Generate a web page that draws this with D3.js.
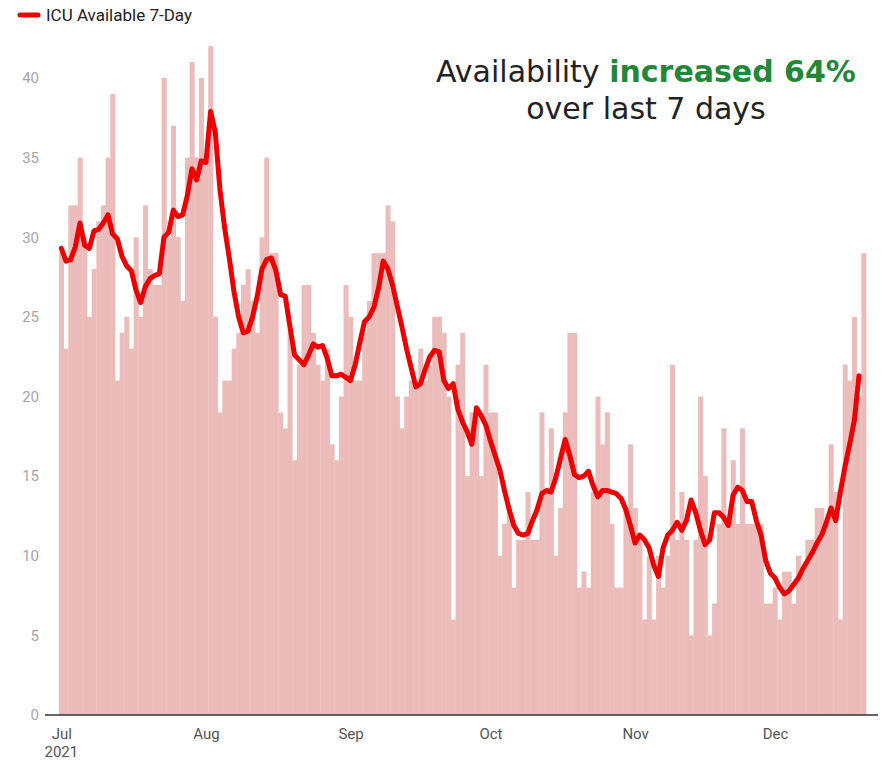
<!DOCTYPE html>
<html>
<head>
<meta charset="utf-8">
<script src="https://cdn.jsdelivr.net/npm/d3@7"></script>
<style>
  body { margin: 0; background: #fff; }
  svg { display: block; font-family: Roboto, "Noto Sans", sans-serif; }
</style>
</head>
<body>
<svg id="chart" width="891" height="762"></svg>
<script>
// Daily ICU beds available, 1 Jul – 19 Dec 2021
const startDay = "2021-07-01";

const available = [
  // Jul
  29, 23, 32, 32, 35, 30, 25, 28, 31, 32, 35, 39, 21, 24, 25, 23, 30, 25, 32, 28, 27, 27, 40, 30, 37, 30, 26, 35, 41, 35, 40,
  // Aug
  35, 42, 25, 19, 21, 21, 23, 24, 27, 28, 26, 24, 30, 35, 29, 29, 19, 18, 24, 16, 22, 27, 27, 24, 22, 21, 23, 17, 16, 20, 27, 25,
  // Sep
  21, 21, 24, 26, 29, 29, 29, 32, 31, 20, 18, 20, 21, 21, 23, 21, 22, 25, 25, 24, 20, 6, 22, 24, 15, 19, 19, 15, 22, 19,
  // Oct
  19, 10, 12, 13, 8, 11, 11, 14, 11, 11, 19, 14, 18, 10, 13, 19, 24, 24, 8, 9, 8, 14, 20, 17, 19, 12, 8, 8, 13, 17, 13,
  // Nov
  11, 6, 10, 6, 10, 8, 10, 22, 11, 14, 11, 5, 11, 20, 15, 5, 7, 12, 18, 12, 16, 12, 18, 12, 12, 12, 12, 7, 7, 8,
  // Dec
  6, 9, 9, 7, 10, 9, 11, 11, 13, 13, 12, 17, 14, 6, 22, 21, 25, 20, 29
];

// 7-day average of available beds
const available7Day = [
  // Jul
  29.3, 28.5, 28.6, 29.4, 30.9, 29.5, 29.3, 30.4, 30.5, 30.9, 31.4, 30.2, 29.9, 28.8, 28.2, 27.9, 26.7, 25.9, 26.9, 27.4, 27.6, 27.7, 30.0, 30.3, 31.7, 31.3, 31.4, 32.6, 34.3, 33.6, 34.8,
  // Aug
  34.7, 37.9, 36.6, 33.0, 30.6, 28.7, 26.6, 25.0, 24.0, 24.1, 25.0, 26.3, 28.0, 28.6, 28.7, 27.9, 26.4, 26.3, 24.4, 22.6, 22.3, 22.0, 22.6, 23.3, 23.1, 23.2, 22.4, 21.3, 21.3, 21.4, 21.2,
  // Sep
  21.0, 22.0, 23.4, 24.7, 25.0, 25.6, 26.8, 28.5, 28.0, 27.0, 25.7, 24.4, 23.0, 21.8, 20.6, 20.8, 21.7, 22.5, 22.9, 22.8, 21.0, 20.5, 20.8, 19.2, 18.4, 17.8, 17.0, 19.3, 18.8, 18.2,
  // Oct
  17.2, 16.3, 15.4, 14.1, 12.9, 11.9, 11.4, 11.3, 11.4, 12.2, 12.9, 13.9, 14.1, 14.0, 14.9, 16.1, 17.3, 16.3, 15.1, 14.9, 15.0, 15.3, 14.4, 13.7, 14.1, 14.1, 14.0, 13.9, 13.6, 12.9, 11.9,
  // Nov
  10.8, 11.3, 11.0, 10.5, 9.4, 8.7, 10.5, 11.3, 11.6, 12.1, 11.6, 12.2, 13.5, 12.7, 11.6, 10.7, 11.0, 12.7, 12.7, 12.4, 11.9, 13.8, 14.3, 14.1, 13.4, 13.4, 12.2, 11.3, 9.7, 8.9,
  // Dec
  8.6, 8.0, 7.6, 7.8, 8.2, 8.6, 9.2, 9.7, 10.2, 10.8, 11.3, 12.1, 13.0, 12.2, 14.0, 15.6, 17.0, 18.5, 21.3
];

const yTicks = [0, 5, 10, 15, 20, 25, 30, 35, 40];
const yearLabel = "2021";
const seriesName = "ICU Available 7-Day";
const headlinePlain = "Availability ";
const headlineBold = "increased 64%";
const headlineSecond = "over last 7 days";

const parseDay = d3.utcParse("%Y-%m-%d");
const firstDay = parseDay(startDay);
const days = available.map((_, i) => d3.utcDay.offset(firstDay, i));
const halfDay = 12 * 3600 * 1000;
const shift = (d, ms) => new Date(+d + ms);

const svg = d3.select("#chart");

const x = d3.scaleUtc()
  .domain([shift(days[0], -halfDay), shift(days[days.length - 1], halfDay)])
  .range([59, 866]);

const y = d3.scaleLinear()
  .domain([0, 40])
  .range([715, 78]);

// daily bars
svg.append("g")
  .selectAll("rect")
  .data(days)
  .join("rect")
  .attr("x", d => x(shift(d, -halfDay)))
  .attr("width", d => x(shift(d, halfDay)) - x(shift(d, -halfDay)) + 0.4)
  .attr("y", (d, i) => y(available[i]))
  .attr("height", (d, i) => y(0) - y(available[i]))
  .attr("fill", "#ecbcbb");

// y axis labels
const yAxis = svg.append("g")
  .attr("transform", "translate(43,0)")
  .call(d3.axisLeft(y).tickValues(yTicks).tickSize(0).tickPadding(4));
yAxis.select(".domain").remove();
yAxis.selectAll("text")
  .attr("fill", "#a6a6a6")
  .style("font-size", "15px")
  .style("font-family", "Roboto, sans-serif");

// x axis labels
const xAxis = svg.append("g")
  .attr("transform", `translate(0,${y(0)})`)
  .call(d3.axisBottom(x)
    .ticks(d3.utcMonth.every(1))
    .tickFormat(d3.utcFormat("%b"))
    .tickSize(0)
    .tickPadding(13));
xAxis.select(".domain").remove();
xAxis.selectAll("text")
  .attr("fill", "#555")
  .style("font-size", "15px")
  .style("font-family", "Roboto, sans-serif");

svg.append("text")
  .attr("x", x(days[0]))
  .attr("y", 762 - 5)
  .attr("text-anchor", "middle")
  .attr("fill", "#555")
  .style("font-size", "15px")
  .text(yearLabel);

// baseline
svg.append("line")
  .attr("x1", 45).attr("x2", 878)
  .attr("y1", y(0)).attr("y2", y(0))
  .attr("stroke", "#333")
  .attr("stroke-width", 1.5);

// 7-day average line
const line = d3.line()
  .x(d => x(d))
  .y((d, i) => y(available7Day[i]));

svg.append("path")
  .datum(days)
  .attr("d", line)
  .attr("fill", "none")
  .attr("stroke", "#ee0000")
  .attr("stroke-width", 5)
  .attr("stroke-linejoin", "round")
  .attr("stroke-linecap", "round");

// legend
const legend = svg.append("g");
legend.append("line")
  .attr("x1", 20).attr("x2", 38)
  .attr("y1", 15).attr("y2", 15)
  .attr("stroke", "#ee0000")
  .attr("stroke-width", 5)
  .attr("stroke-linecap", "round");
legend.append("text")
  .attr("x", 46)
  .attr("y", 21)
  .attr("fill", "#222")
  .style("font-size", "17px")
  .text(seriesName);

// headline
const headline = svg.append("g")
  .style("font-family", "'DejaVu Sans', sans-serif")
  .style("font-size", "30px")
  .attr("fill", "#222");
const h1 = headline.append("text")
  .attr("x", 646)
  .attr("y", 82)
  .attr("text-anchor", "middle");
h1.append("tspan").text(headlinePlain);
h1.append("tspan")
  .attr("fill", "#23873a")
  .style("font-weight", "700")
  .text(headlineBold);
headline.append("text")
  .attr("x", 646)
  .attr("y", 119)
  .attr("text-anchor", "middle")
  .text(headlineSecond);
</script>
</body>
</html>
